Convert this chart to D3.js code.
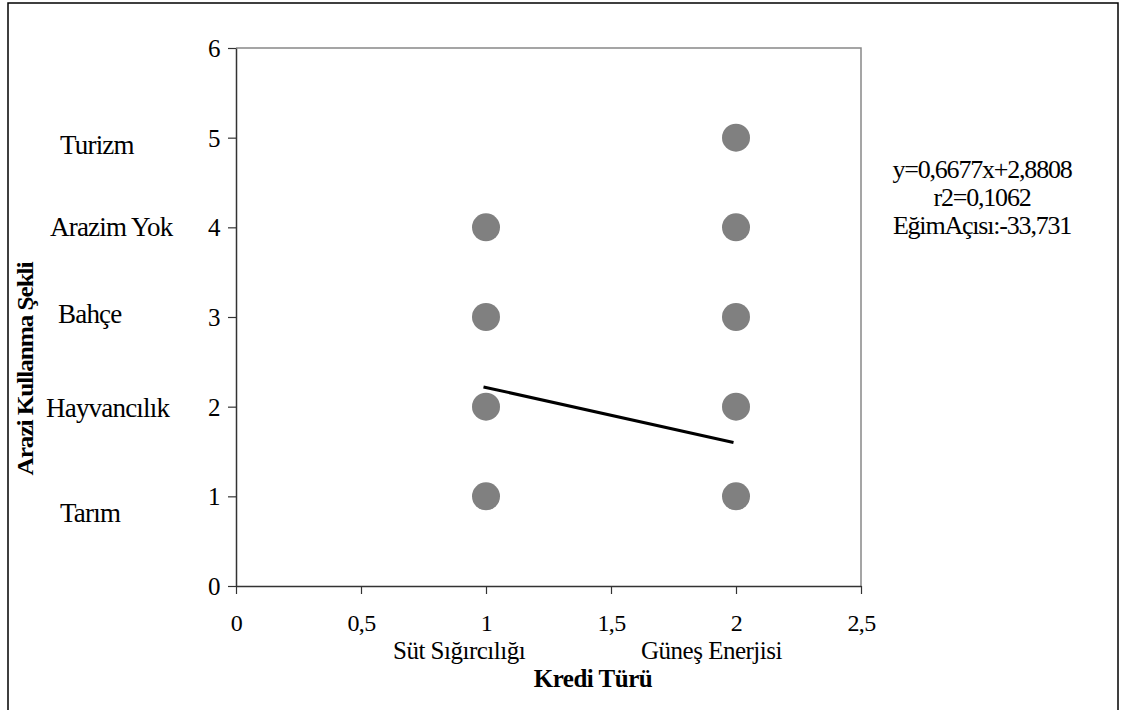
<!DOCTYPE html>
<html><head><meta charset="utf-8">
<script src="https://cdn.jsdelivr.net/npm/d3@7"></script>
<style>
html,body{margin:0;padding:0;background:#fff;}
svg{display:block;}
text{font-family:"Liberation Serif","Times New Roman",serif;fill:#000;}
</style></head>
<body><svg id="c" width="1126" height="710"></svg>
<script>
// ---- data ----
const xTicks = [0, 0.5, 1, 1.5, 2, 2.5];
const yTicks = [0, 1, 2, 3, 4, 5, 6];
const pointsX = [1, 1, 1, 1, 2, 2, 2, 2, 2];
const pointsY = [1, 2, 3, 4, 1, 2, 3, 4, 5];
const trendX = [0.99, 1.99];
const trendY = [2.22, 1.60];
const yCategories = ["Tarım", "Hayvancılık", "Bahçe", "Arazim Yok", "Turizm"];
const yCategoryValues = [1, 2, 3, 4, 5];
const xCategories = ["Süt Sığırcılığı", "Güneş Enerjisi"];
const xCategoryValues = [1, 2];
const statLines = ["y=0,6677x+2,8808", "r2=0,1062", "EğimAçısı:-33,731"];
const xTitle = "Kredi Türü";
const yTitle = "Arazi Kullanma Şekli";

// ---- layout ----
const svg = d3.select("#c");
const L = 236, R = 861, T = 48, B = 586;
const x = d3.scaleLinear().domain([0, 2.5]).range([L, R]);
const y = d3.scaleLinear().domain([0, 6]).range([B, T]);
const fmt = d => String(d).replace(".", ",");

// outer frame
svg.append("rect").attr("x", 8).attr("y", 3).attr("width", 1110).attr("height", 760)
  .attr("fill", "none").attr("stroke", "#000").attr("stroke-width", 1.5);

// plot frame top/right
svg.append("path").attr("d", `M${L},${T}H${R}V${B}`)
  .attr("fill", "none").attr("stroke", "#888").attr("stroke-width", 1.5);

// axes
const yAxis = svg.append("g").attr("transform", `translate(${L},0)`)
  .call(d3.axisLeft(y).tickValues(yTicks).tickSize(8).tickSizeOuter(0).tickFormat(fmt));
const xAxis = svg.append("g").attr("transform", `translate(0,${B})`)
  .call(d3.axisBottom(x).tickValues(xTicks).tickSize(8).tickSizeOuter(0).tickFormat(fmt));
[yAxis, xAxis].forEach(g => {
  g.select(".domain").attr("stroke", "#333").attr("stroke-width", 1.5);
  g.selectAll(".tick line").attr("stroke", "#333").attr("stroke-width", 1.2);
  g.selectAll(".tick text").attr("font-family", "Liberation Serif").attr("font-size", 25)
    .attr("fill", "#000").attr("letter-spacing", -0.6);
});
yAxis.selectAll(".tick text").attr("x", -16).attr("dy", "0.34em");
xAxis.selectAll(".tick text").attr("font-size", 24).attr("y", 0).attr("dy", 45);

// points
svg.append("g").selectAll("circle").data(pointsX.map((d, i) => [d, pointsY[i]]))
  .join("circle").attr("cx", d => x(d[0])).attr("cy", d => y(d[1])).attr("r", 14)
  .attr("fill", "#808080");

// trend line
svg.append("path").datum(trendX.map((d, i) => [d, trendY[i]]))
  .attr("d", d3.line().x(d => x(d[0])).y(d => y(d[1])))
  .attr("stroke", "#000").attr("stroke-width", 3).attr("fill", "none");

// category labels (left)
const catStyle = [{x: 60, dy: 26}, {x: 46, dy: 10}, {x: 58, dy: 6}, {x: 50, dy: 9}, {x: 60, dy: 16}];
svg.append("g").selectAll("text").data(yCategories).join("text")
  .attr("x", (d, i) => catStyle[i].x)
  .attr("y", (d, i) => y(yCategoryValues[i]) + catStyle[i].dy)
  .attr("font-size", 27).attr("letter-spacing", -0.8).text(d => d);

// category labels (bottom)
const xCatStyle = [{dx: -93}, {dx: -95}];
svg.append("g").selectAll("text").data(xCategories).join("text")
  .attr("x", (d, i) => x(xCategoryValues[i]) + xCatStyle[i].dx)
  .attr("y", 659).attr("font-size", 25).attr("letter-spacing", -0.5).text(d => d);

// axis titles
svg.append("text").attr("x", 593).attr("y", 687).attr("text-anchor", "middle")
  .attr("font-size", 25).attr("font-weight", "bold").attr("letter-spacing", -0.5).text(xTitle);
svg.append("text").attr("transform", "translate(33,369) rotate(-90)").attr("text-anchor", "middle")
  .attr("font-size", 23).attr("font-weight", "bold").attr("letter-spacing", -1)
  .attr("textLength", 213).attr("lengthAdjust", "spacingAndGlyphs").text(yTitle);

// stats
svg.append("g").selectAll("text").data(statLines).join("text")
  .attr("x", 982).attr("y", (d, i) => 178 + i * 28).attr("text-anchor", "middle")
  .attr("font-size", 26).attr("letter-spacing", -1.2).text(d => d);
</script></body></html>
